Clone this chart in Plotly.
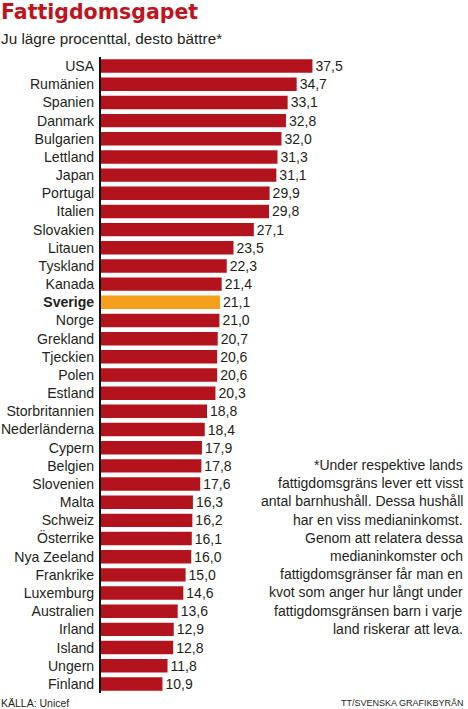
import plotly.graph_objects as go

countries = ["USA", "Rumänien", "Spanien", "Danmark", "Bulgarien", "Lettland", "Japan",
             "Portugal", "Italien", "Slovakien", "Litauen", "Tyskland", "Kanada", "Sverige",
             "Norge", "Grekland", "Tjeckien", "Polen", "Estland", "Storbritannien",
             "Nederländerna", "Cypern", "Belgien", "Slovenien", "Malta", "Schweiz",
             "Österrike", "Nya Zeeland", "Frankrike", "Luxemburg", "Australien", "Irland",
             "Island", "Ungern", "Finland"]
values = [37.5, 34.7, 33.1, 32.8, 32.0, 31.3, 31.1, 29.9, 29.8, 27.1, 23.5, 22.3, 21.4, 21.1,
          21.0, 20.7, 20.6, 20.6, 20.3, 18.8, 18.4, 17.9, 17.8, 17.6, 16.3, 16.2, 16.1, 16.0,
          15.0, 14.6, 13.6, 12.9, 12.8, 11.8, 10.9]
highlight = "Sverige"

footnote_lines = [
    "*Under respektive lands",
    "fattigdomsgräns lever ett visst",
    "antal barnhushåll. Dessa hushåll",
    "har en viss medianinkomst.",
    "Genom att relatera dessa",
    "medianinkomster och",
    "fattigdomsgränser får man en",
    "kvot som anger hur långt under",
    "fattigdomsgränsen barn i varje",
    "land riskerar att leva.",
]

RED = "#b3131c"
ORANGE = "#f59f1c"
TXT = "#231f20"
FONT = "Liberation Sans, Arial, sans-serif"

colors = [ORANGE if c == highlight else RED for c in countries]
labels = [f"{v:.1f}".replace(".", ",") for v in values]
ticktext = [f"<b>{c}</b>" if c == highlight else c for c in countries]

fig = go.Figure(go.Bar(
    x=values, y=countries, orientation="h",
    marker=dict(color=colors, line=dict(width=0)),
    text=labels, textposition="outside", cliponaxis=False,
    constraintext="none",
    textfont=dict(family=FONT, size=14, color=TXT),
    width=0.74,
))

W, H = 468, 709
ml, mr, mt, mb = 101, 5, 57, 16
pw = W - ml - mr
ph = H - mt - mb


def px_x(x):
    return (x - ml) / pw


def px_y(y):
    return 1 - (y - mt) / ph


fig.update_layout(
    width=W, height=H,
    margin=dict(l=ml, r=mr, t=mt, b=mb, pad=0, autoexpand=False),
    paper_bgcolor="white", plot_bgcolor="white",
    showlegend=False,
    font=dict(family=FONT, color=TXT),
    xaxis=dict(range=[0, 64.2], visible=False, fixedrange=True, automargin=False),
    yaxis=dict(
        categoryorder="array", categoryarray=countries,
        range=[len(countries) - 0.5, -0.5],
        tickvals=countries, ticktext=ticktext,
        tickfont=dict(family=FONT, size=14.1, color=TXT),
        showline=True, linecolor="#111111", linewidth=2,
        ticks="", showgrid=False, zeroline=False,
        ticklabelstandoff=2, automargin=False,
    ),
)

# title & subtitle
fig.add_annotation(text="<b>Fattigdomsgapet</b>", xref="paper", yref="paper",
                   x=px_x(-1), y=px_y(-2), xanchor="left", yanchor="top", showarrow=False,
                   font=dict(family="DejaVu Sans", size=20.5, color="#c0141d"))
fig.add_annotation(text="Ju lägre procenttal, desto bättre*", xref="paper", yref="paper",
                   x=px_x(-1), y=px_y(39), xanchor="left", yanchor="middle", showarrow=False,
                   font=dict(family=FONT, size=15.3, color=TXT))

# footnote, right aligned
for i, line in enumerate(footnote_lines):
    fig.add_annotation(text=line, xref="paper", yref="paper",
                       x=px_x(465), y=px_y(465 + i * 18.2),
                       xanchor="right", yanchor="middle", showarrow=False,
                       font=dict(family=FONT, size=14, color=TXT))

# sources
fig.add_annotation(text="KÄLLA: Unicef", xref="paper", yref="paper",
                   x=px_x(-1), y=px_y(703),
                   xanchor="left", yanchor="middle", showarrow=False,
                   font=dict(family=FONT, size=10.5, color=TXT))
fig.add_annotation(text="TT/SVENSKA GRAFIKBYRÅN", xref="paper", yref="paper",
                   x=px_x(466), y=px_y(703),
                   xanchor="right", yanchor="middle", showarrow=False,
                   font=dict(family=FONT, size=9, color=TXT))

fig.write_html("out.html")
